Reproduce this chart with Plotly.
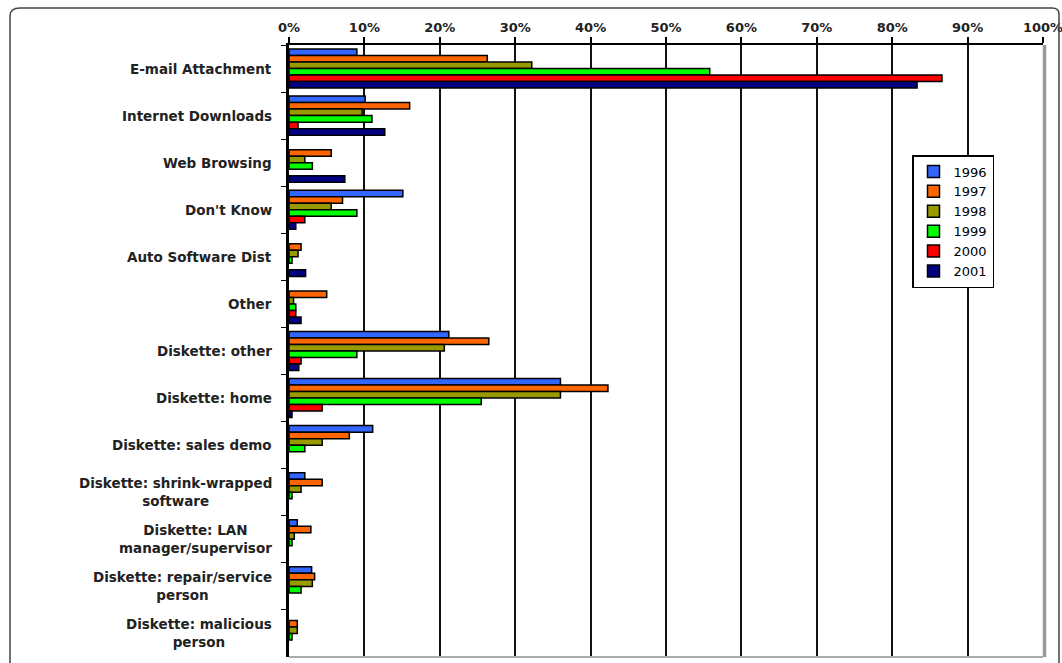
import plotly.graph_objects as go

categories = ["E-mail Attachment", "Internet Downloads", "Web Browsing", "Don't Know",
              "Auto Software Dist", "Other", "Diskette: other", "Diskette: home",
              "Diskette: sales demo", "Diskette: shrink-wrapped software",
              "Diskette: LAN manager/supervisor", "Diskette: repair/service person",
              "Diskette: malicious person"]
category_labels = ["E-mail Attachment", "Internet Downloads", "Web Browsing", "Don't Know",
                   "Auto Software Dist", "Other", "Diskette: other", "Diskette: home",
                   "Diskette: sales demo", "Diskette: shrink-wrapped<br>software",
                   "Diskette: LAN<br>manager/supervisor", "Diskette: repair/service<br>person",
                   "Diskette: malicious<br>person"]
years = ["1996", "1997", "1998", "1999", "2000", "2001"]

v1996 = [9.0, 10.1, None, 15.1, None, None, 21.2, 36.0, 11.1, 2.1, 1.1, 3.0, None]
v1997 = [26.3, 16.0, 5.6, 7.1, 1.6, 5.0, 26.5, 42.3, 8.0, 4.4, 2.9, 3.4, 1.1]
v1998 = [32.2, 9.7, 2.1, 5.6, 1.2, 0.6, 20.6, 36.0, 4.4, 1.6, 0.7, 3.1, 1.1]
v1999 = [55.8, 11.0, 3.1, 9.0, 0.4, 0.9, 9.0, 25.5, 2.1, 0.4, 0.4, 1.6, 0.4]
v2000 = [86.6, 1.2, None, 2.1, None, 0.9, 1.6, 4.4, None, None, None, None, None]
v2001 = [83.3, 12.7, 7.4, 0.9, 2.2, 1.6, 1.3, 0.4, None, None, None, None, None]
series = [v1996, v1997, v1998, v1999, v2000, v2001]

x_ticks = list(range(0, 101, 10))
x_tick_labels = [f"{t}%" for t in x_ticks]

colors = ["#3366FF", "#FF6600", "#999900", "#00FF00", "#FF0000", "#000080"]

W, H = 1062, 663
L, R, T, B = 289, 1043, 45, 657


def px(xp):
    return (xp - L) / (R - L)


def py(yp):
    return 1 - (yp - T) / (B - T)


fig = go.Figure()
for yr, vals, col in zip(years, series, colors):
    fig.add_trace(go.Bar(
        y=categories, x=vals, name=yr, orientation="h",
        marker=dict(color=col, line=dict(color="black", width=1.5)),
    ))

annotations = []
for cat, lab in zip(categories, category_labels):
    annotations.append(dict(
        x=0, xref="paper", y=cat, yref="y", text=lab, showarrow=False,
        xanchor="right", yanchor="middle", align="center", xshift=-15,
        font=dict(family="DejaVu Sans", size=13.5, color="#222222", weight="bold"),
    ))

shapes = [
    # right plot border (gray)
    dict(type="line", xref="paper", yref="paper", x0=1.002, x1=1.002, y0=0, y1=1,
         line=dict(color="#9a9a9a", width=3.5), layer="above"),
    # bottom plot border (gray)
    dict(type="line", xref="paper", yref="paper", x0=0, x1=1, y0=0, y1=0,
         line=dict(color="#aaaaaa", width=2), layer="above"),
    # outer frame with rounded top corners
    dict(type="path", xref="paper", yref="paper",
         path=(f"M {px(10)},{py(670)} L {px(10)},{py(16)} "
               f"Q {px(10)},{py(8)} {px(20)},{py(8)} "
               f"L {px(1052)},{py(8)} Q {px(1059)},{py(8)} {px(1059)},{py(14)} "
               f"L {px(1059)},{py(670)}"),
         line=dict(color="#444444", width=1.5), layer="above"),
]

fig.update_layout(
    width=W, height=H,
    margin=dict(l=L, r=W - R, t=T, b=H - B, pad=0, autoexpand=False),
    paper_bgcolor="white", plot_bgcolor="white",
    barmode="group", bargap=0.17, bargroupgap=0,
    font=dict(family="DejaVu Sans", color="black"),
    xaxis=dict(
        side="top", range=[0, 100], tickvals=x_ticks, ticktext=x_tick_labels,
        showgrid=True, gridcolor="#111111", gridwidth=1.8,
        showline=True, linecolor="black", linewidth=1.5,
        ticks="outside", ticklen=6, tickcolor="black", tickwidth=1.5,
        tickfont=dict(family="DejaVu Sans", size=13, color="#222222", weight="bold"),
        ticklabeloverflow="allow", automargin=False,
        zeroline=False, fixedrange=True,
    ),
    yaxis=dict(
        autorange="reversed", showticklabels=False, automargin=False,
        showline=True, linecolor="black", linewidth=2.5,
        ticks="outside", tickson="boundaries", ticklen=5, tickcolor="black",
        showgrid=False, zeroline=False,
    ),
    legend=dict(
        x=px(912), y=py(155), xanchor="left", yanchor="top",
        bordercolor="black", borderwidth=1.5, bgcolor="white",
        font=dict(family="DejaVu Sans", size=13, color="black"),
        traceorder="normal", itemwidth=30,
    ),
    annotations=annotations,
    shapes=shapes,
    showlegend=True,
)

fig.write_html("out.html")
